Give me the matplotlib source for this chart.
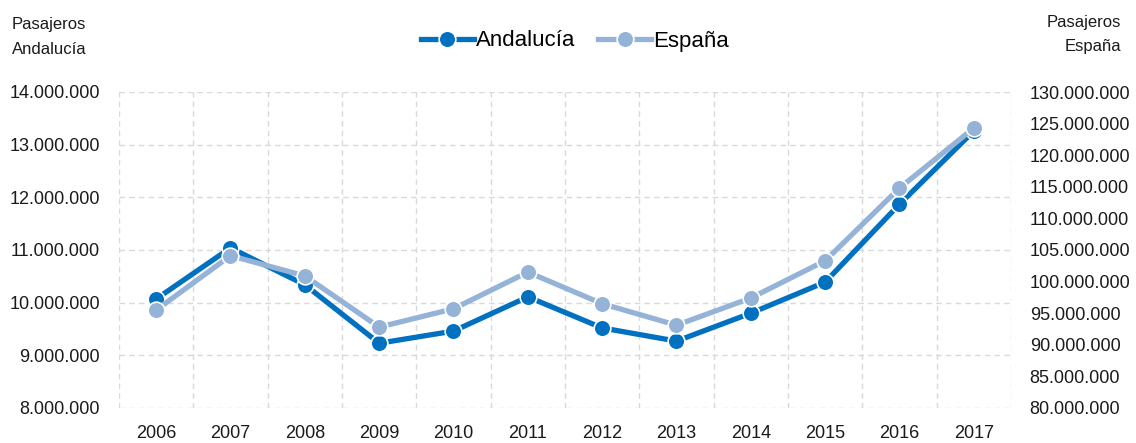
import matplotlib
matplotlib.use("Agg")
import matplotlib.pyplot as plt
from matplotlib.ticker import FuncFormatter, MultipleLocator
from matplotlib.lines import Line2D

years = ["2006", "2007", "2008", "2009", "2010", "2011", "2012", "2013", "2014", "2015", "2016", "2017"]
andalucia = [10.07e6, 11.04e6, 10.34e6, 9.23e6, 9.46e6, 10.11e6, 9.52e6, 9.27e6, 9.80e6, 10.39e6, 11.87e6, 13.26e6]
espana = [95.5e6, 104.1e6, 100.9e6, 92.8e6, 95.7e6, 101.5e6, 96.5e6, 93.1e6, 97.4e6, 103.3e6, 114.8e6, 124.3e6]

plt.rcParams['font.family'] = ['Liberation Sans', 'DejaVu Sans']

c_and = "#0070C0"
c_esp = "#95B3D7"
grid_c = "#D9D9D9"

fig = plt.figure(figsize=(11.36, 4.43), dpi=100)
ax = fig.add_axes([119/1136, 35/443, (1011-119)/1136, (408-92)/443])
ax2 = ax.twinx()

x = list(range(len(years)))

def fmt(v, pos):
    return f"{int(round(v)):,}".replace(",", ".")

ax.set_ylim(8e6, 14e6)
ax.yaxis.set_major_locator(MultipleLocator(1e6))
ax.yaxis.set_major_formatter(FuncFormatter(fmt))
ax2.set_ylim(80e6, 130e6)
ax2.yaxis.set_major_locator(MultipleLocator(5e6))
ax2.yaxis.set_major_formatter(FuncFormatter(fmt))

ax.set_xlim(-0.5, len(years) - 0.5)
ax.set_xticks(x)
ax.set_xticklabels(years)
ax.set_xticks([i + 0.5 for i in range(-1, len(years))], minor=True)

for a in (ax, ax2):
    for s in a.spines.values():
        s.set_visible(False)
    a.tick_params(axis='both', which='both', length=0, labelsize=13, colors="#1a1a1a")

ax.tick_params(axis='y', pad=13.5)
ax2.tick_params(axis='y', pad=13.5)
ax.tick_params(axis='x', pad=12)

ax.grid(True, axis='y', which='major', color=grid_c, linestyle=(0, (4, 3)), linewidth=1)
ax.grid(True, axis='x', which='minor', color=grid_c, linestyle=(0, (4, 3)), linewidth=1)
ax.grid(False, axis='x', which='major')
ax.set_axisbelow(True)

ax.plot(x, andalucia, color=c_and, linewidth=3.8, marker='o', markersize=12,
        markeredgecolor='white', markeredgewidth=1.2, zorder=3, clip_on=False)
ax2.plot(x, espana, color=c_esp, linewidth=3.8, marker='o', markersize=12,
         markeredgecolor='white', markeredgewidth=1.2, zorder=3, clip_on=False)

fig.text(12/1136, 1 - 37/443, "Pasajeros\nAndalucía", fontsize=12, ha='left', va='center',
         linespacing=1.75, color="#1a1a1a")
fig.text(1121/1136, 1 - 35/443, "Pasajeros\nEspaña", fontsize=12, ha='right', va='center',
         linespacing=1.75, color="#1a1a1a", multialignment='right')

handles = [
    Line2D([0], [0], color=c_and, linewidth=3.8, marker='o', markersize=12,
           markeredgecolor='white', markeredgewidth=1.2),
    Line2D([0], [0], color=c_esp, linewidth=3.8, marker='o', markersize=12,
           markeredgecolor='white', markeredgewidth=1.2),
]
fig.legend(handles, ["Andalucía", "España"], loc='center', bbox_to_anchor=(575/1136, 1 - 41/443),
           ncol=2, frameon=False, fontsize=16, handlelength=2.4, handletextpad=0.1,
           columnspacing=1.0)

fig.savefig("out.png", dpi=100)
